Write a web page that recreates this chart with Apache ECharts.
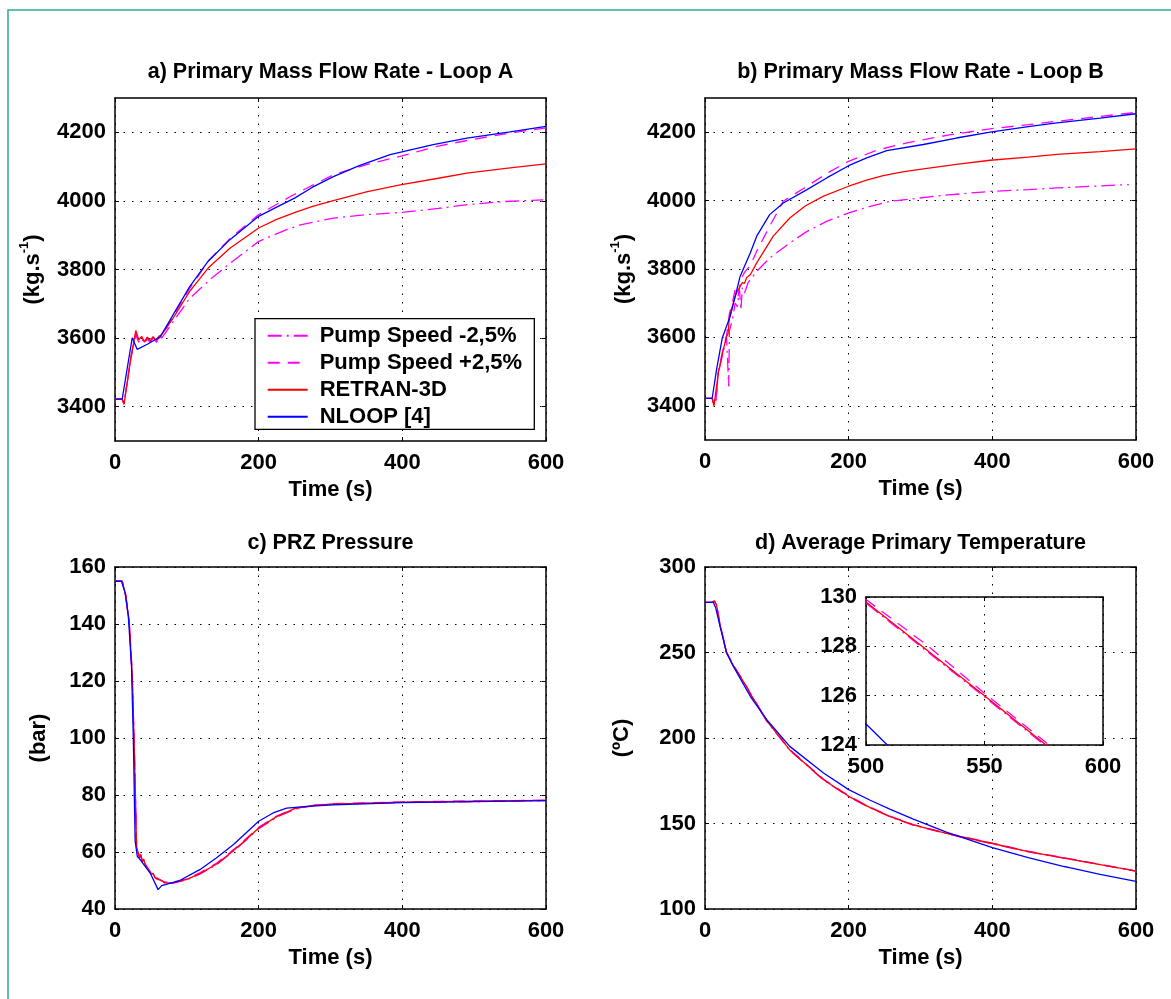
<!DOCTYPE html>
<html><head><meta charset="utf-8">
<script src="https://cdn.jsdelivr.net/npm/echarts@6/dist/echarts.min.js"></script>
<style>html,body{margin:0;padding:0;background:#fff}#c{width:1171px;height:999px}</style>
</head><body><div id="c"></div>
<script>
// ---------------- DATA ----------------
const seriesNames = ['Pump Speed -2,5%', 'Pump Speed +2,5%', 'RETRAN-3D', 'NLOOP [4]'];
const panelTitles = ['a) Primary Mass Flow Rate - Loop A', 'b) Primary Mass Flow Rate - Loop B', 'c) PRZ Pressure', 'd) Average Primary Temperature'];
const timeTicks = [0, 200, 400, 600];
const flowTicks = [3400, 3600, 3800, 4000, 4200];
const pressTicks = [40, 60, 80, 100, 120, 140, 160];
const tempTicks = [100, 150, 200, 250, 300];
const insetTimeTicks = [500, 550, 600];
const insetTempTicks = [124, 126, 128, 130];

// a) Loop A mass flow [t, kg/s]
const aPumpMinus = [[0,3422],[10,3422],[12.5,3408],[15,3412],[22,3540],[29,3610],[33,3588],[37,3600],[41,3585],[45,3598],[49,3587],[53,3600],[57,3586],[61,3598],[65,3600],[80,3645],[104,3716],[132,3770],[160,3818],[200,3882],[239,3916],[258,3930],[304,3950],[350,3960],[397,3966],[450,3978],[490,3989],[540,3998],[596,4003]];
const aPumpPlus = [[0,3422],[10,3422],[12.5,3408],[15,3412],[22,3545],[29,3615],[33,3590],[37,3600],[41,3588],[45,3602],[49,3590],[53,3603],[57,3590],[61,3600],[65,3605],[80,3660],[104,3745],[130,3825],[160,3890],[200,3960],[246,4015],[304,4076],[350,4106],[397,4130],[450,4160],[500,4180],[550,4198],[600,4213]];
const aRetran = [[0,3422],[10,3422],[12.5,3407],[15,3410],[22,3540],[29,3622],[33,3595],[37,3605],[41,3590],[45,3603],[49,3592],[53,3604],[57,3594],[61,3605],[65,3610],[80,3655],[104,3736],[130,3805],[160,3862],[200,3921],[225,3946],[250,3966],[275,3984],[304,4001],[350,4026],[397,4047],[450,4066],[490,4081],[550,4096],[600,4108]];
const aNloop = [[0,3422],[10,3422],[24,3601],[31,3567],[45,3582],[63,3604],[80,3665],[104,3750],[130,3825],[160,3887],[200,3955],[225,3982],[250,4008],[275,4040],[304,4071],[340,4103],[383,4135],[443,4164],[490,4183],[550,4201],[600,4217]];

// b) Loop B mass flow
const bPumpMinus = [[0,3422],[10,3422],[12.5,3402],[15,3408],[18.5,3495],[25,3555],[30,3600],[33,3457],[34,3620],[38,3650],[42,3700],[45,3690],[48,3740],[50,3680],[52,3745],[55,3730],[60,3760],[72,3793],[90,3832],[118,3876],[142,3910],[170,3940],[200,3964],[230,3983],[258,3998],[330,4015],[397,4027],[450,4032],[490,4037],[540,4042],[590,4047]];
const bPumpPlus = [[0,3422],[10,3422],[12.5,3402],[15,3408],[18.5,3500],[25,3565],[30,3605],[34,3670],[38,3700],[42,3740],[46,3720],[50,3770],[55,3790],[63,3810],[72,3852],[90,3925],[109,3998],[142,4042],[170,4080],[200,4115],[240,4148],[281,4169],[340,4192],[397,4210],[450,4222],[490,4232],[550,4246],[600,4258]];
const bRetran = [[0,3422],[10,3422],[12.5,3400],[15,3405],[18.5,3496],[25,3560],[30,3603],[32,3610],[34,3660],[36,3655],[38,3690],[40,3685],[42,3720],[45,3735],[47,3730],[49,3749],[52,3760],[55,3758],[58,3775],[63,3783],[72,3818],[95,3896],[118,3949],[140,3985],[165,4013],[200,4042],[225,4060],[248,4073],[275,4084],[304,4093],[350,4106],[397,4118],[450,4127],[490,4135],[550,4143],[600,4151]];
const bNloop = [[0,3422],[10,3422],[16,3505],[24,3598],[35,3661],[49,3779],[63,3847],[72,3896],[90,3959],[109,3993],[142,4032],[170,4067],[200,4102],[225,4125],[253,4146],[304,4164],[350,4183],[397,4200],[450,4216],[490,4227],[550,4241],[600,4254]];

// c) Pressurizer pressure [t, bar]
const cPumpMinus = [[0,155],[10,155],[15,149.8],[20,139.6],[24,121.6],[27,94.6],[30,61.7],[32,59.8],[34,57.8],[36,58.8],[38,56.3],[40,57.3],[42,55.3],[44,55.8],[46,53.8],[48,54.3],[50,52.3],[53,52.3],[56,50.8],[60,50.3],[70,49.0],[80,49.0],[100,50.2],[118,52.2],[141,55.5],[160,59.3],[180,63.6],[200,68.2],[225,72.2],[250,75.0],[275,76.2],[300,76.7],[400,77.4],[500,77.7],[600,78.0]];
const cPumpPlus = [[0,155],[10,155],[15,150.3],[20,140.5],[24,122.5],[27,95.5],[30,62.5],[32,60.3],[34,58.4],[36,59.2],[38,56.9],[40,57.7],[42,55.8],[44,56.3],[46,54.3],[48,54.8],[50,52.8],[53,52.7],[56,51.3],[60,50.7],[70,49.4],[80,49.4],[100,50.6],[118,52.7],[141,56.0],[160,59.8],[180,64.1],[200,68.7],[225,72.6],[250,75.3],[275,76.4],[300,76.9],[400,77.6],[500,77.9],[600,78.2]];
const cRetran = [[0,155],[10,155],[15,150],[20,140],[24,122],[27,95],[30,62],[32,60],[34,58],[36,59],[38,56.5],[40,57.5],[42,55.5],[44,56],[46,54],[48,54.5],[50,52.5],[53,52.5],[56,51],[60,50.5],[70,49.2],[80,49.2],[100,50.4],[118,52.4],[141,55.7],[160,59.5],[180,63.8],[200,68.4],[225,72.4],[250,75.2],[275,76.3],[300,76.8],[400,77.5],[500,77.8],[600,78.1]];
const cNloop = [[0,155],[9,155],[14,151],[18.5,143],[23,125],[25.5,100],[28,64],[31,58.5],[35,57.3],[49,52.6],[60,46.8],[65,48.2],[90,50.0],[118,53.8],[141,57.9],[165,62.6],[200,70.8],[220,73.7],[239,75.4],[267,76.0],[304,76.5],[400,77.3],[500,77.7],[600,78.0]];

// d) Average primary temperature [t, degC]
const dPumpMinus = [[0,279.3],[10,279.4],[13,279.9],[16,277.8],[21,265.8],[30,249.8],[40,241.8],[55,231.8],[63,225.8],[86,209.8],[118,192.8],[165,175.4],[200,165.7],[230,159.1],[258,153.8],[290,149.0],[336,144.0],[400,138.1],[450,133.4],[500,129.75],[525,127.85],[550,125.95],[576,123.95],[600,122.1]];
const dPumpPlus = [[0,279.3],[10,279.5],[13,280.2],[16,278.3],[21,266.4],[30,250.3],[40,242.3],[55,232.3],[63,226.3],[86,210.3],[118,193.3],[165,175.9],[200,166.2],[230,159.5],[258,154.2],[290,149.4],[336,144.4],[400,138.5],[450,133.8],[500,129.9],[525,128.1],[550,126.1],[576,124.1],[600,122.3]];
const dRetran = [[0,279.3],[10,279.5],[13,280],[16,278],[21,266],[30,250],[40,242],[55,232],[63,226],[86,210],[118,193],[165,175.6],[200,165.9],[230,159.3],[258,154.0],[290,149.2],[336,144.2],[400,138.3],[450,133.6],[500,129.8],[525,127.9],[550,126.0],[576,124.0],[600,122.2]];
const dNloop = [[0,279.3],[11.6,279.3],[15,276],[21,265.3],[30,249.7],[39.5,241.9],[63,224.4],[86,210.7],[118,195.1],[165,179.5],[200,169.8],[230,163.6],[258,158.3],[290,152.6],[336,144.9],[400,135.9],[450,130.0],[500,124.85],[509,124.0],[550,120.3],[600,116.2]];

// ---------------- STYLE / LAYOUT ----------------
const FONT = "'Liberation Sans', Arial, Helvetica, sans-serif";
const FS = 22;
const styles = [
  { color: '#ff00ff', type: [14, 5, 2, 5] },
  { color: '#ff00ff', type: [12, 8] },
  { color: '#ff0000', type: 'solid' },
  { color: '#0000ff', type: 'solid' }
];
const grids = [
  { left: 115, top: 98, width: 431, height: 343 },
  { left: 705, top: 98, width: 431, height: 342 },
  { left: 115, top: 567, width: 431, height: 342 },
  { left: 705, top: 567, width: 431, height: 342 },
  { left: 866, top: 597, width: 237, height: 148, show: true, backgroundColor: '#fff', borderWidth: 0, z: 1 }
];
const gridLine = { show: true, lineStyle: { color: '#000', width: 1, type: [1.5, 7] } };
const axLine = { show: true, onZero: false, lineStyle: { color: '#000', width: 1.5 } };
const lbl = { color: '#000', fontFamily: FONT, fontSize: FS, fontWeight: 'bold' };
const plain = v => String(v);

const xAxes = [], yAxes = [];
function addAxes(gi, xr, yr, xName, yName, yGap, z) {
  const zz = z || 0;
  const xBase = { type: 'value', gridIndex: gi, min: xr.min, max: xr.max, interval: xr.interval, z: zz, axisLine: axLine };
  xAxes.push(Object.assign({}, xBase, {
    position: 'bottom',
    axisTick: { show: true, inside: true, length: 4, lineStyle: { color: '#000' } },
    axisLabel: Object.assign({ margin: 11, showMinLabel: true, showMaxLabel: true, formatter: plain }, lbl),
    splitLine: gridLine,
    name: xName || '', nameLocation: 'middle', nameGap: 38,
    nameTextStyle: lbl
  }));
  xAxes.push(Object.assign({}, xBase, {
    position: 'top',
    axisTick: { show: true, inside: true, length: 4, lineStyle: { color: '#000' } },
    axisLabel: { show: false }, splitLine: { show: false }
  }));
  const yBase = { type: 'value', gridIndex: gi, min: yr.min, max: yr.max, z: zz, axisLine: axLine };
  if (yr.custom) {
    yBase.axisTick = { show: true, inside: true, length: 4, lineStyle: { color: '#000' }, customValues: yr.custom };
  } else {
    yBase.interval = yr.interval;
    yBase.axisTick = { show: true, inside: true, length: 4, lineStyle: { color: '#000' } };
  }
  const lab = Object.assign({ margin: 9, showMinLabel: true, showMaxLabel: true, formatter: plain }, lbl);
  if (yr.custom) lab.customValues = yr.custom;
  yAxes.push(Object.assign({}, yBase, {
    position: 'left',
    axisLabel: lab,
    splitLine: gridLine,
    name: yName || '', nameLocation: 'middle', nameRotate: 90, nameGap: yGap || 0,
    nameTextStyle: Object.assign({}, lbl, {
      rich: {
        m: { fontFamily: FONT, fontSize: FS, fontWeight: 'bold', color: '#000', lineHeight: 29 },
        sup: { fontFamily: FONT, fontSize: 13, fontWeight: 'bold', color: '#000', lineHeight: 13, verticalAlign: 'top' }
      }
    })
  }));
  yAxes.push(Object.assign({}, yBase, {
    position: 'right',
    axisLabel: { show: false }, splitLine: { show: false }
  }));
}
const flowName = '{m|(kg.s}{sup|-1}{m|)}';
addAxes(0, { min: 0, max: 600, interval: 200 }, { min: 3300, max: 4300, custom: flowTicks }, 'Time (s)', flowName, 68);
addAxes(1, { min: 0, max: 600, interval: 200 }, { min: 3300, max: 4300, custom: flowTicks }, 'Time (s)', flowName, 67);
addAxes(2, { min: 0, max: 600, interval: 200 }, { min: 40, max: 160, interval: 20 }, 'Time (s)', '{m|(bar)}', 62);
addAxes(3, { min: 0, max: 600, interval: 200 }, { min: 100, max: 300, interval: 50 }, 'Time (s)', '{m|(ºC)}', 69);
addAxes(4, { min: 500, max: 600, interval: 50 }, { min: 124, max: 130, interval: 2 }, '', '', 0, 3);

const panelData = [
  [aPumpMinus, aPumpPlus, aRetran, aNloop],
  [bPumpMinus, bPumpPlus, bRetran, bNloop],
  [cPumpMinus, cPumpPlus, cRetran, cNloop],
  [dPumpMinus, dPumpPlus, dRetran, dNloop],
  [dPumpMinus, dPumpPlus, dRetran, dNloop]
];
const series = [];
panelData.forEach((arrs, gi) => {
  arrs.forEach((d, si) => {
    series.push({
      type: 'line', name: seriesNames[si], data: d,
      xAxisIndex: gi * 2, yAxisIndex: gi * 2,
      symbol: 'none', showSymbol: false, silent: true, clip: true,
      z: gi === 4 ? 4 : 2,
      lineStyle: { color: styles[si].color, width: 1.3, type: styles[si].type },
      itemStyle: { color: styles[si].color },
      emphasis: { disabled: true }
    });
  });
});

const titlePos = [[330.5, 72], [920.5, 72], [330.5, 543], [920.5, 543]];
const graphics = [
  { type: 'rect', shape: { x: 8, y: 10, width: 1300, height: 1100 }, style: { fill: 'none', stroke: '#31a99a', lineWidth: 1.5 }, silent: true, z: 0 },
  { type: 'rect', shape: { x: 255, y: 318.7, width: 279.3, height: 110.6 }, style: { fill: '#fff', stroke: '#000', lineWidth: 1.3 }, silent: true, z: 3 }
];
panelTitles.forEach((t, i) => {
  graphics.push({ type: 'text', x: titlePos[i][0], y: titlePos[i][1], z: 5, silent: true,
    style: { text: t, align: 'center', verticalAlign: 'middle', fill: '#000', fontFamily: FONT, fontSize: 21.5, fontWeight: 'bold' } });
});

const chart = echarts.init(document.getElementById('c'), null, { renderer: 'canvas' });
chart.setOption({
  animation: false,
  backgroundColor: '#fff',
  grid: grids,
  xAxis: xAxes,
  yAxis: yAxes,
  series: series,
  graphic: graphics,
  legend: {
    data: seriesNames, orient: 'vertical', left: 255, top: 318.7,
    padding: [6, 5, 5, 11.7], itemWidth: 40, itemHeight: 14, itemGap: 5, z: 4,
    selectedMode: false,
    itemStyle: { color: 'rgba(0,0,0,0)', borderWidth: 0, opacity: 0 },
    textStyle: { color: '#000', fontFamily: FONT, fontSize: FS, fontWeight: 'bold', padding: [0, 0, 0, 7] }
  }
});
</script></body></html>
